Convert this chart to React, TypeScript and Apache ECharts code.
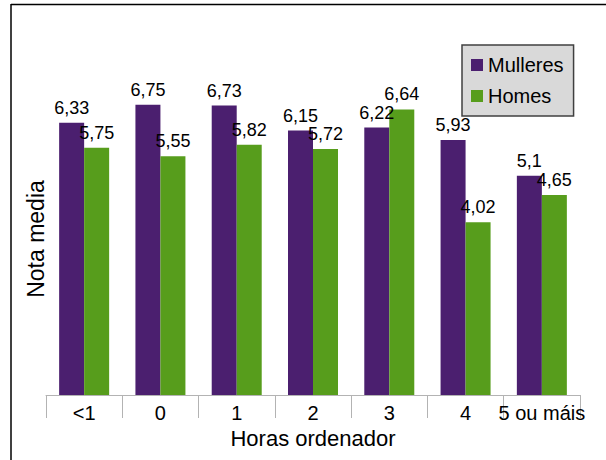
import React, { useEffect, useRef } from "react";
import * as echarts from "echarts";

const categories = ["<1", "0", "1", "2", "3", "4", "5 ou máis"];
const mulleres = [6.33, 6.75, 6.73, 6.15, 6.22, 5.93, 5.1];
const homes = [5.75, 5.55, 5.82, 5.72, 6.64, 4.02, 4.65];
const seriesNames = ["Mulleres", "Homes"];
const xTitle = "Horas ordenador";
const yTitle = "Nota media";

const FONT = "'Liberation Sans', Arial, sans-serif";
const fmt = (v: number) => String(v).replace(".", ",");

export default function App() {
  const ref = useRef<HTMLDivElement>(null);
  useEffect(() => {
    if (!ref.current) return;
    const chart = echarts.init(ref.current, undefined, { renderer: "svg" });
    const label = {
      show: true,
      position: "top" as const,
      distance: 6,
      fontSize: 18,
      fontFamily: FONT,
      color: "#000",
      formatter: (p: any) => fmt(p.value),
    };
    chart.setOption({
      animation: false,
      backgroundColor: "#fff",
      textStyle: { fontFamily: FONT },
      grid: { left: 46, right: 26, top: 51, bottom: 65 },
      legend: {
        orient: "vertical",
        left: 462,
        top: 45,
        data: seriesNames,
        icon: "rect",
        itemWidth: 12,
        itemHeight: 12,
        itemGap: 11,
        itemTextGap: 8,
        padding: [10, 10, 10, 9],
        backgroundColor: "#d9d9d9",
        borderColor: "#404040",
        borderWidth: 1.5,
        borderRadius: 0,
        textStyle: { fontSize: 20, color: "#000", fontFamily: FONT },
      },
      xAxis: {
        type: "category",
        data: categories,
        name: xTitle,
        nameLocation: "middle",
        nameGap: 29,
        nameTextStyle: { fontSize: 22, color: "#000", fontFamily: FONT },
        axisLine: { show: true, lineStyle: { color: "#b3b3b3", width: 1 } },
        axisTick: { show: true, length: 23, lineStyle: { color: "#b3b3b3", width: 1 } },
        axisLabel: { fontSize: 20, color: "#000", margin: 8, fontFamily: FONT, interval: 0 },
        splitLine: { show: false },
      },
      yAxis: {
        type: "value",
        min: 0,
        max: 8,
        show: false,
        splitLine: { show: false },
      },
      graphic: [
        {
          type: "line",
          shape: { x1: 11, y1: 4.5, x2: 606, y2: 4.5 },
          style: { stroke: "#000", lineWidth: 1.5 },
          silent: true,
        },
        {
          type: "line",
          shape: { x1: 11, y1: 4, x2: 11, y2: 460 },
          style: { stroke: "#000", lineWidth: 1.5 },
          silent: true,
        },
        {
          type: "text",
          x: 36,
          y: 239,
          rotation: Math.PI / 2,
          style: {
            text: yTitle,
            fontSize: 23,
            fontFamily: FONT,
            fill: "#000",
            textAlign: "center",
            textVerticalAlign: "middle",
          },
        },
      ],
      series: [
        {
          name: seriesNames[0],
          type: "bar",
          data: mulleres,
          barWidth: 25,
          barGap: "0%",
          itemStyle: { color: "#4b1f6f" },
          label,
        },
        {
          name: seriesNames[1],
          type: "bar",
          data: homes,
          barWidth: 25,
          barGap: "0%",
          itemStyle: { color: "#579d1c" },
          label,
        },
      ],
    });
    return () => chart.dispose();
  }, []);
  return (
    <div
      ref={ref}
      style={{ position: "absolute", left: 0, top: 0, width: 606, height: 460, background: "#fff" }}
    />
  );
}
